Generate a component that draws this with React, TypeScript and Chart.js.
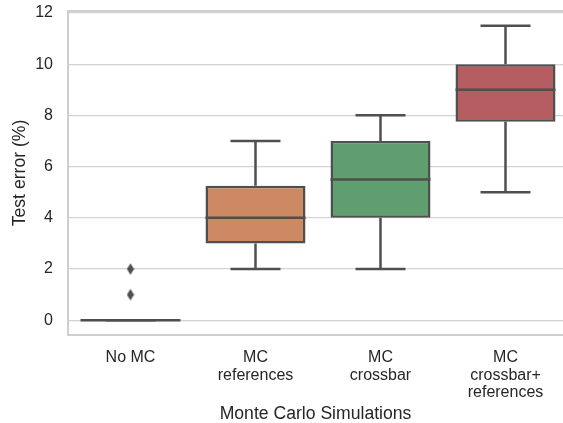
import React, { useEffect, useRef } from "react";
import { Chart, registerables } from "chart.js";

Chart.register(...registerables);

const categories: string[][] = [
  ["No MC"],
  ["MC", "references"],
  ["MC", "crossbar"],
  ["MC", "crossbar+", "references"],
];
const whiskerLow = [0, 2, 2, 5];
const q1 = [0, 3, 4, 7.75];
const median = [0, 4, 5.5, 9];
const q3 = [0, 5.25, 7, 10];
const whiskerHigh = [0, 7, 8, 11.5];
const outlierX = [0, 0];
const outlierY = [1, 2];
const yTicks = [0, 2, 4, 6, 8, 10, 12];
const boxColors = ["#5872A1", "#CC8963", "#5F9E6E", "#B55D60"];

const LINE = "#4f4f4f";
const FRAME = "#cfcfcf";
const TEXT = "#262626";
const FONT = "Liberation Sans, Arial, sans-serif";

function makeDiamond(): HTMLCanvasElement {
  const c = document.createElement("canvas");
  c.width = 8;
  c.height = 12;
  const g = c.getContext("2d")!;
  g.fillStyle = LINE;
  g.beginPath();
  g.moveTo(4, 0.3);
  g.lineTo(7.6, 6);
  g.lineTo(4, 11.7);
  g.lineTo(0.4, 6);
  g.closePath();
  g.fill();
  return c;
}

const boxPlugin = {
  id: "boxParts",
  beforeDatasetsDraw(chart: any) {
    const { ctx, scales, chartArea } = chart;
    const x = scales.x;
    const y = scales.y;
    ctx.save();
    ctx.strokeStyle = FRAME;
    ctx.lineWidth = 2;
    ctx.beginPath();
    ctx.moveTo(chartArea.right + 2, chartArea.top);
    ctx.lineTo(chartArea.left, chartArea.top);
    ctx.lineTo(chartArea.left, chartArea.bottom);
    ctx.lineTo(chartArea.right + 2, chartArea.bottom);
    ctx.stroke();
    const meta = chart.getDatasetMeta(0);
    ctx.strokeStyle = LINE;
    ctx.lineWidth = 2.5;
    ctx.lineCap = "butt";
    for (let i = 0; i < median.length; i++) {
      const bar = meta.data[i];
      const w = bar ? bar.width : 100;
      const cx = x.getPixelForValue(i);
      const yLo = y.getPixelForValue(whiskerLow[i]);
      const yQ1 = y.getPixelForValue(q1[i]);
      const yQ3 = y.getPixelForValue(q3[i]);
      const yHi = y.getPixelForValue(whiskerHigh[i]);
      ctx.beginPath();
      ctx.moveTo(cx, yQ1);
      ctx.lineTo(cx, yLo);
      ctx.moveTo(cx, yQ3);
      ctx.lineTo(cx, yHi);
      ctx.moveTo(cx - w / 4, yLo);
      ctx.lineTo(cx + w / 4, yLo);
      ctx.moveTo(cx - w / 4, yHi);
      ctx.lineTo(cx + w / 4, yHi);
      ctx.stroke();
    }
    ctx.restore();
  },
  afterDatasetsDraw(chart: any) {
    const { ctx, scales } = chart;
    const x = scales.x;
    const y = scales.y;
    const meta = chart.getDatasetMeta(0);
    ctx.save();
    ctx.strokeStyle = LINE;
    ctx.lineWidth = 2.5;
    for (let i = 0; i < median.length; i++) {
      const bar = meta.data[i];
      const w = bar ? bar.width : 100;
      const cx = x.getPixelForValue(i);
      const ym = y.getPixelForValue(median[i]);
      ctx.beginPath();
      ctx.moveTo(cx - w / 2, ym);
      ctx.lineTo(cx + w / 2, ym);
      ctx.stroke();
    }
    ctx.restore();
  },
};

export default function App() {
  const ref = useRef<HTMLCanvasElement | null>(null);
  useEffect(() => {
    document.body.style.margin = "0";
    const canvas = ref.current!;
    const diamond = makeDiamond();
    const chart = new Chart(canvas, {
      type: "bar",
      data: {
        datasets: [
          {
            type: "bar",
            data: median.map((_, i) => ({ x: i, y: [q1[i], q3[i]] })) as any,
            backgroundColor: boxColors,
            borderColor: LINE,
            borderWidth: 2.5,
            borderSkipped: false,
            categoryPercentage: 1,
            barPercentage: 0.8,
          } as any,
          {
            type: "scatter",
            data: outlierX.map((v, i) => ({ x: v, y: outlierY[i] })),
            pointStyle: diamond as any,
            pointRadius: 5,
            showLine: false,
          } as any,
        ],
      },
      options: {
        animation: false,
        responsive: false,
        maintainAspectRatio: false,
        layout: { autoPadding: false, padding: { top: 11, right: 0, left: 0, bottom: 0 } },
        plugins: { legend: { display: false }, tooltip: { enabled: false } },
        scales: {
          x: {
            type: "linear",
            min: -0.5,
            max: 3.46,
            offset: false,
            grid: { display: false },
            border: { display: false },
            afterBuildTicks: (s: any) => {
              s.ticks = categories.map((_, i) => ({ value: i }));
            },
            afterFit: (s: any) => {
              s.height = 88;
              s.paddingLeft = 0;
              s.paddingRight = 0;
            },
            ticks: {
              autoSkip: false,
              maxRotation: 0,
              padding: 6,
              color: TEXT,
              font: { family: FONT, size: 16, lineHeight: 1.1 },
              callback: (v: any) => categories[Number(v)] ?? "",
            },
            title: {
              display: true,
              text: "Monte Carlo Simulations",
              color: TEXT,
              font: { family: FONT, size: 17.6 },
              padding: { top: 0, bottom: -2 },
            },
          },
          y: {
            type: "linear",
            min: -0.575,
            max: 12.075,
            afterBuildTicks: (s: any) => {
              s.ticks = yTicks.map((v) => ({ value: v }));
            },
            afterFit: (s: any) => {
              s.width = 68;
              s.paddingTop = 0;
              s.paddingBottom = 0;
            },
            grid: { color: "#d3d3d3", lineWidth: 1.2, drawTicks: false },
            border: { display: false },
            ticks: {
              padding: 15,
              color: TEXT,
              font: { family: FONT, size: 16 },
            },
            title: {
              display: true,
              text: "Test error (%)",
              color: TEXT,
              font: { family: FONT, size: 17.6 },
              padding: { top: 10, bottom: 2 },
            },
          },
        },
      },
      plugins: [boxPlugin],
    } as any);
    return () => chart.destroy();
  }, []);
  return (
    <div style={{ width: 563, height: 423 }}>
      <canvas ref={ref} width={563} height={423} style={{ display: "block" }} />
    </div>
  );
}
